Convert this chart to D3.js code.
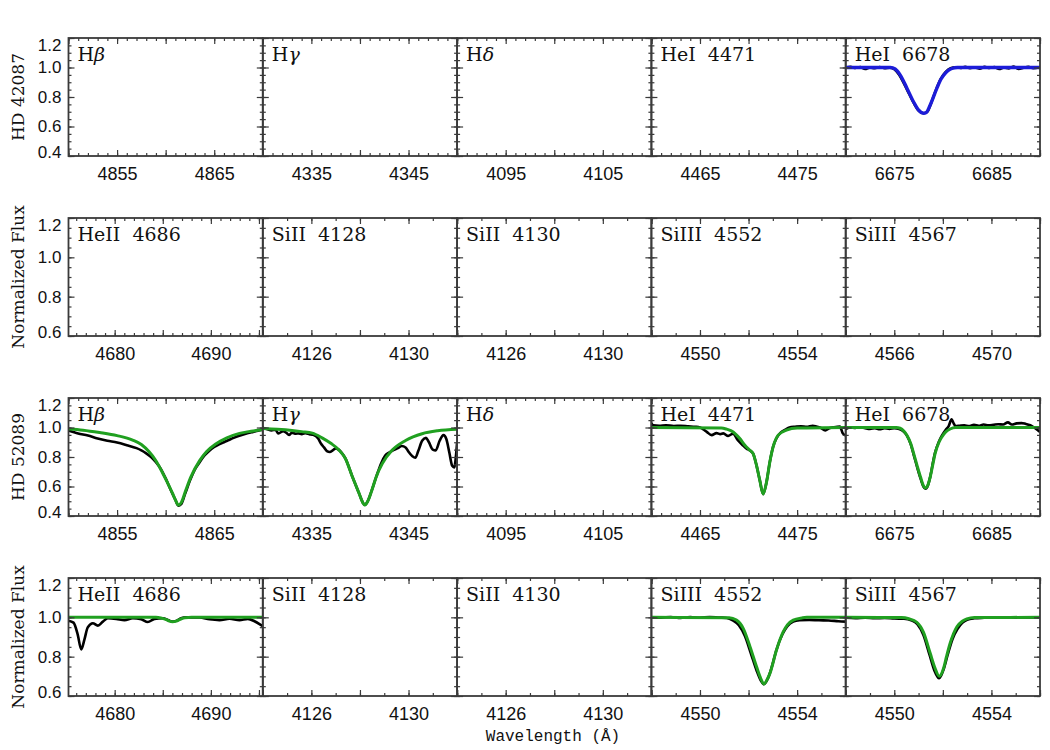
<!DOCTYPE html>
<html>
<head>
<meta charset="utf-8">
<script src="https://cdn.jsdelivr.net/npm/d3@7"></script>
<style>
  body { margin: 0; background: #fff; }
  text { fill: #111; }
  .plabel { white-space: pre; }
</style>
</head>
<body>
<div id="chart"></div>
<script>
// Line profiles of two stars, observed (black) and fitted model (green / blue)

// panel titles, one list per row
var rowLabels = [
  ['Hβ', 'Hγ', 'Hδ', 'HeI  4471', 'HeI  6678'],
  ['HeII  4686', 'SiII  4128', 'SiII  4130', 'SiIII  4552', 'SiIII  4567'],
  ['Hβ', 'Hγ', 'Hδ', 'HeI  4471', 'HeI  6678'],
  ['HeII  4686', 'SiII  4128', 'SiII  4130', 'SiIII  4552', 'SiIII  4567']
];
var rowTitles = ['HD 42087', 'Normalized Flux', 'HD 52089', 'Normalized Flux'];

// wavelength range of each panel
var xDomainsBalmer = [[4850, 4870], [4330, 4350], [4090, 4110], [4460, 4480], [6670, 6690]];
var xDomainsMetal1 = [[4675.2, 4695.4], [4124, 4132], [4124, 4132], [4548, 4556], [4564, 4572]];
var xDomainsMetal2 = [[4675.2, 4695.4], [4124, 4132], [4124, 4132], [4548, 4556], [4548, 4556]];
var rowXDomains = [xDomainsBalmer, xDomainsMetal1, xDomainsBalmer, xDomainsMetal2];

// labelled wavelength ticks
var xLabelsBalmer = [[4855, 4865], [4335, 4345], [4095, 4105], [4465, 4475], [6675, 6685]];
var xLabelsMetal1 = [[4680, 4690], [4126, 4130], [4126, 4130], [4550, 4554], [4566, 4570]];
var xLabelsMetal2 = [[4680, 4690], [4126, 4130], [4126, 4130], [4550, 4554], [4550, 4554]];
var rowXLabels = [xLabelsBalmer, xLabelsMetal1, xLabelsBalmer, xLabelsMetal2];

// flux ranges and labels
var rowYDomains = [[0.4, 1.2], [0.6, 1.2], [0.4, 1.2], [0.6, 1.2]];
var yLabelsBalmer = [0.4, 0.6, 0.8, 1.0, 1.2];
var yLabelsMetal = [0.6, 0.8, 1.0, 1.2];
var rowYLabels = [yLabelsBalmer, yLabelsMetal, yLabelsBalmer, yLabelsMetal];

// HD 42087, HeI 6678
var hd42087He6678Obs = [[6670,1.0],[6670.5,1.004],[6671,0.997],[6671.5,1.003],[6672,0.99],[6672.5,1.0],[6673,0.995],
  [6673.5,1.003],[6674,0.996],[6674.5,0.999],[6675,0.988],[6675.5,0.95],[6676,0.89],[6676.5,0.825],[6677,0.76],
  [6677.5,0.708],[6678,0.69],[6678.4,0.7],[6678.8,0.76],[6679.3,0.85],[6679.8,0.925],[6680.3,0.97],[6680.8,0.995],
  [6681.3,1.002],[6681.8,0.997],[6682.3,1.004],[6682.8,0.996],[6683.3,1.0],[6683.8,0.992],[6684.3,1.004],
  [6684.8,0.997],[6685.3,1.003],[6685.8,0.99],[6686.3,1.0],[6686.8,0.994],[6687.3,1.007],[6687.8,0.99],
  [6688.3,0.998],[6688.8,1.005],[6689.3,0.996],[6690,1.002]];
var hd42087He6678Fit = [[6670,1.0],[6674.6,1.0],[6675.09,0.99],[6675.6,0.95],[6676.3,0.86],[6676.98,0.768],
  [6677.49,0.712],[6678.0,0.69],[6678.3,0.695],[6678.7,0.746],[6679.38,0.859],[6679.8,0.92],[6680.24,0.96],
  [6680.6,0.982],[6680.93,0.993],[6681.5,1.0],[6690,1.0]];

// HD 52089, H beta
var hd52089HbObs = [[4850,0.98],[4851,0.96],[4852,0.945],[4853,0.925],[4854,0.91],[4855,0.898],[4856,0.88],
  [4857,0.86],[4857.5,0.845],[4858,0.825],[4858.5,0.8],[4859,0.765],[4859.5,0.72],[4860,0.655],[4860.5,0.58],
  [4861,0.51],[4861.3,0.47],[4861.6,0.48],[4862,0.55],[4862.5,0.64],[4863,0.715],[4863.5,0.765],[4864,0.81],
  [4864.5,0.843],[4865,0.868],[4865.5,0.886],[4866,0.9],[4866.5,0.915],[4867,0.93],[4867.5,0.943],[4868,0.953],
  [4868.5,0.962],[4869,0.97],[4869.5,0.978],[4870,0.985]];
var hd52089HbFit = [[4850,0.99],[4851.5,0.982],[4853.2,0.966],[4855,0.945],[4856.6,0.915],[4857.5,0.885],
  [4858.3,0.835],[4859,0.775],[4859.7,0.69],[4860.2,0.625],[4860.7,0.555],[4861.0,0.51],[4861.3,0.475],
  [4861.6,0.49],[4862.1,0.58],[4862.6,0.665],[4863.5,0.775],[4864.2,0.835],[4865.2,0.89],[4866.3,0.93],
  [4867.6,0.96],[4868.8,0.975],[4870,0.987]];

// HD 52089, H gamma
var hd52089HgObs = [[4330,0.998],[4330.4,0.99],[4330.9,0.98],[4331.3,0.985],[4331.6,0.96],[4332.1,0.975],
  [4332.4,0.965],[4332.7,0.95],[4333,0.965],[4333.4,0.958],[4333.7,0.96],[4334,0.955],[4334.4,0.962],
  [4334.8,0.955],[4335.2,0.95],[4335.7,0.925],[4336,0.89],[4336.3,0.865],[4336.6,0.84],[4336.9,0.834],
  [4337.2,0.845],[4337.5,0.858],[4337.8,0.85],[4338.1,0.83],[4338.5,0.79],[4339.2,0.67],[4339.9,0.555],
  [4340.3,0.49],[4340.5,0.475],[4340.8,0.5],[4341.2,0.57],[4341.7,0.67],[4342.2,0.76],[4342.6,0.81],
  [4343,0.83],[4343.4,0.845],[4343.9,0.86],[4344.3,0.875],[4344.7,0.865],[4345,0.835],[4345.4,0.805],
  [4345.7,0.795],[4346,0.84],[4346.4,0.91],[4346.8,0.93],[4347.1,0.9],[4347.5,0.85],[4347.8,0.845],
  [4348.2,0.91],[4348.6,0.948],[4348.9,0.92],[4349.2,0.83],[4349.5,0.74],[4349.7,0.73],[4349.9,0.82],[4350,0.9]];
var hd52089HgFit = [[4330,0.993],[4331.5,0.988],[4333,0.98],[4334,0.972],[4335.1,0.962],[4336.1,0.93],
  [4337,0.893],[4337.8,0.85],[4338.5,0.79],[4339.2,0.67],[4339.9,0.555],[4340.3,0.49],[4340.5,0.475],
  [4340.8,0.5],[4341.2,0.57],[4341.7,0.67],[4342.3,0.755],[4343.3,0.845],[4344.7,0.912],[4346.4,0.958],
  [4348,0.978],[4350,0.988]];

// HD 52089, HeI 4471
var hd52089He4471Obs = [[4460,1.03],[4460.2,1.015],[4460.8,1.012],[4461.5,1.015],[4462.3,1.01],[4463,1.012],
  [4463.8,1.008],[4464.5,1.005],[4465,1.0],[4465.4,0.985],[4465.7,0.97],[4466.2,0.948],[4466.7,0.962],
  [4467.1,0.955],[4467.4,0.96],[4467.9,0.943],[4468.4,0.958],[4468.9,0.914],[4469.4,0.88],[4469.8,0.857],
  [4470.1,0.846],[4470.47,0.823],[4470.82,0.743],[4471.16,0.641],[4471.5,0.548],[4471.85,0.63],
  [4472.19,0.766],[4472.53,0.87],[4472.9,0.93],[4473.3,0.965],[4473.8,0.985],[4474.2,1.0],[4474.8,1.005],
  [4475.4,1.008],[4476,1.004],[4476.6,1.012],[4477,1.006],[4477.4,0.998],[4477.9,0.98],[4478.3,0.995],
  [4478.8,1.002],[4479.4,1.006],[4479.7,0.96],[4480,0.945]];
var hd52089He4471Fit = [[4460,1.0],[4467.2,0.997],[4467.74,0.989],[4468.42,0.97],[4469.1,0.925],[4469.62,0.88],
  [4470.13,0.846],[4470.47,0.823],[4470.82,0.743],[4471.16,0.641],[4471.5,0.55],[4471.85,0.63],
  [4472.19,0.766],[4472.53,0.868],[4473.05,0.948],[4473.9,0.982],[4475,0.996],[4480,1.0]];

// HD 52089, HeI 6678
var hd52089He6678Obs = [[6670,0.99],[6670.5,1.0],[6671,0.997],[6671.5,1.002],[6672,0.995],[6672.5,0.99],
  [6673,0.995],[6673.5,0.988],[6674,0.995],[6674.5,0.99],[6675,0.995],[6675.5,0.99],[6676,0.97],[6676.3,0.945],
  [6676.7,0.885],[6677,0.815],[6677.4,0.72],[6677.7,0.655],[6678,0.6],[6678.2,0.585],[6678.4,0.598],
  [6678.7,0.665],[6679,0.77],[6679.2,0.83],[6679.6,0.905],[6679.9,0.945],[6680.3,0.985],[6680.6,1.01],
  [6680.9,1.055],[6681.1,1.03],[6681.3,1.01],[6681.7,1.012],[6682.2,1.015],[6682.7,1.01],[6683.2,1.018],
  [6683.7,1.012],[6684.2,1.02],[6684.7,1.015],[6685.2,1.018],[6685.7,1.022],[6686.2,1.02],[6686.7,1.035],
  [6687.1,1.02],[6687.6,1.028],[6688.1,1.03],[6688.5,1.025],[6689,1.015],[6689.5,0.995],[6690,0.97]];
var hd52089He6678Fit = [[6670,1.0],[6675.2,1.0],[6675.6,0.995],[6676.0,0.975],[6676.3,0.948],[6676.7,0.89],
  [6677.0,0.823],[6677.4,0.73],[6677.7,0.664],[6678.0,0.605],[6678.2,0.59],[6678.4,0.6],[6678.7,0.664],
  [6679.0,0.76],[6679.2,0.823],[6679.6,0.9],[6679.9,0.936],[6680.3,0.97],[6680.75,0.99],[6681.3,1.0],[6690,1.0]];

// HD 52089, HeII 4686
var hd52089He4686Obs = [[4675.2,0.983],[4675.72,0.973],[4676.17,0.91],[4676.52,0.837],[4676.86,0.888],
  [4677.2,0.949],[4677.73,0.97],[4678.25,0.958],[4678.77,0.978],[4679.29,0.995],[4680.16,0.992],
  [4681.02,0.986],[4681.88,0.995],[4682.76,0.99],[4683.44,0.976],[4684.14,0.992],[4685,0.995],
  [4685.6,0.985],[4686,0.978],[4686.4,0.982],[4686.9,0.995],[4687.44,1.0],[4688.82,1.0],[4689.86,0.99],
  [4690.9,0.986],[4691.94,0.993],[4692.98,0.986],[4693.84,0.992],[4694.54,0.98],[4695.23,0.96],[4695.4,0.955]];
var hd52089He4686Fit = [[4675.2,1.0],[4684.3,1.0],[4684.8,0.997],[4685.3,0.99],[4685.7,0.981],[4686.0,0.978],
  [4686.4,0.981],[4686.8,0.99],[4687.3,0.998],[4688,1.0],[4695.4,1.0]];

// HD 52089, SiIII 4552
var hd52089Si4552Obs = [[4548,1.0],[4548.4,0.998],[4548.8,1.002],[4549.2,0.997],[4549.6,1.001],[4550,0.998],
  [4550.4,1.002],[4550.8,0.999],[4551.1,0.997],[4551.35,0.985],[4551.6,0.96],[4551.85,0.905],[4552.1,0.815],
  [4552.33,0.73],[4552.5,0.68],[4552.63,0.66],[4552.8,0.69],[4552.95,0.745],[4553.15,0.835],[4553.4,0.915],
  [4553.6,0.955],[4553.84,0.978],[4554.1,0.985],[4554.5,0.987],[4554.9,0.985],[4555.3,0.984],[4555.7,0.98],
  [4556,0.978]];
var hd52089Si4552Fit = [[4548,1.0],[4551.2,0.998],[4551.5,0.986],[4551.78,0.944],[4552.06,0.851],
  [4552.33,0.749],[4552.5,0.69],[4552.63,0.661],[4552.75,0.68],[4552.88,0.715],[4553.15,0.834],
  [4553.43,0.927],[4553.6,0.962],[4553.84,0.986],[4554.2,0.997],[4554.4,1.0],[4556,1.0]];

// HD 52089, SiIII 4567
var hd52089Si4567Obs = [[4548,0.998],[4548.4,0.996],[4548.8,0.998],[4549.2,0.995],[4549.6,0.997],[4550,0.994],
  [4550.4,0.993],[4550.7,0.985],[4550.95,0.965],[4551.2,0.91],[4551.45,0.81],[4551.65,0.73],[4551.85,0.69],
  [4552.03,0.735],[4552.2,0.81],[4552.4,0.89],[4552.6,0.94],[4552.8,0.972],[4553.0,0.988],[4553.3,0.995],
  [4553.7,0.998],[4554.2,1.0],[4554.8,0.999],[4555.4,1.0],[4556,0.999]];
var hd52089Si4567Fit = [[4548,1.0],[4550.3,0.999],[4550.6,0.993],[4550.93,0.975],[4551.2,0.925],
  [4551.48,0.817],[4551.68,0.741],[4551.85,0.7],[4552.03,0.741],[4552.15,0.8],[4552.3,0.868],
  [4552.58,0.952],[4552.8,0.98],[4552.99,0.992],[4553.3,0.999],[4556,1.0]];

// which spectrum goes in which panel
var spectra = [
  { row: 0, col: 4, data: hd42087He6678Obs, color: '#000', width: 2.6 },
  { row: 0, col: 4, data: hd42087He6678Fit, color: '#1c1cd8', width: 3.4 },
  { row: 2, col: 0, data: hd52089HbObs, color: '#000', width: 2.6 },
  { row: 2, col: 0, data: hd52089HbFit, color: '#20a020', width: 3 },
  { row: 2, col: 1, data: hd52089HgObs, color: '#000', width: 2.6 },
  { row: 2, col: 1, data: hd52089HgFit, color: '#20a020', width: 3 },
  { row: 2, col: 3, data: hd52089He4471Obs, color: '#000', width: 2.6 },
  { row: 2, col: 3, data: hd52089He4471Fit, color: '#20a020', width: 3 },
  { row: 2, col: 4, data: hd52089He6678Obs, color: '#000', width: 2.6 },
  { row: 2, col: 4, data: hd52089He6678Fit, color: '#20a020', width: 3 },
  { row: 3, col: 0, data: hd52089He4686Obs, color: '#000', width: 2.6 },
  { row: 3, col: 0, data: hd52089He4686Fit, color: '#20a020', width: 3 },
  { row: 3, col: 3, data: hd52089Si4552Obs, color: '#000', width: 2.6 },
  { row: 3, col: 3, data: hd52089Si4552Fit, color: '#20a020', width: 3 },
  { row: 3, col: 4, data: hd52089Si4567Obs, color: '#000', width: 2.6 },
  { row: 3, col: 4, data: hd52089Si4567Fit, color: '#20a020', width: 3 }
];

(function() {
  var W = 1050, H = 750;
  var plotLeft = 68.5, plotRight = 1040;
  var rowTops = [38, 218, 398, 578];
  var panelH = 118;
  var panelW = (plotRight - plotLeft) / 5;
  var axisColor = '#3a3a3a';
  var tickFont = '"Liberation Sans", Arial, sans-serif';
  var serifFont = '"DejaVu Serif", serif';

  var svg = d3.select('#chart').append('svg').attr('width', W).attr('height', H);
  svg.append('rect').attr('width', W).attr('height', H).attr('fill', '#fff');

  function stepTicks(dom, step) {
    var out = [];
    for (var v = Math.ceil(dom[0] / step - 1e-9) * step; v <= dom[1] + 1e-9; v += step) {
      out.push(+v.toFixed(3));
    }
    return out;
  }

  function styleAxis(sel) {
    sel.select('.domain').remove();
    sel.selectAll('.tick line').attr('stroke', axisColor).attr('stroke-width', 1.2);
  }

  rowTops.forEach(function(top, r) {
    var yDom = rowYDomains[r];
    var y = d3.scaleLinear().domain(yDom).range([panelH, 0]);
    var yMinor = stepTicks(yDom, 0.05);

    for (var c = 0; c < 5; c++) {
      var xDom = rowXDomains[r][c];
      var x = d3.scaleLinear().domain(xDom).range([0, panelW]);
      var wide = (xDom[1] - xDom[0]) > 10;
      var xMajor = stepTicks(xDom, wide ? 5 : 2);
      var xMinor = stepTicks(xDom, 1);
      var labels = rowXLabels[r][c];

      var g = svg.append('g')
        .attr('transform', 'translate(' + (plotLeft + c * panelW) + ',' + top + ')');

      var clipId = 'clip-' + r + '-' + c;
      g.append('clipPath').attr('id', clipId)
        .append('rect').attr('width', panelW).attr('height', panelH);

      // spectra
      var line = d3.line()
        .x(function(d) { return x(d[0]); })
        .y(function(d) { return y(d[1]); })
        .curve(d3.curveMonotoneX);

      spectra.filter(function(s) { return s.row === r && s.col === c; }).forEach(function(s) {
        g.append('path')
          .attr('clip-path', 'url(#' + clipId + ')')
          .attr('d', line(s.data))
          .attr('fill', 'none')
          .attr('stroke', s.color)
          .attr('stroke-width', s.width)
          .attr('stroke-linejoin', 'round');
      });

      // bottom axis with labels
      var bottom = g.append('g').attr('transform', 'translate(0,' + panelH + ')')
        .call(d3.axisBottom(x).tickValues(xMajor).tickSize(-6).tickPadding(11)
          .tickFormat(function(d) { return labels.indexOf(d) >= 0 ? d : ''; }));
      styleAxis(bottom);
      bottom.selectAll('text').attr('font-family', tickFont).attr('font-size', 18).attr('fill', '#111');
      styleAxis(g.append('g').attr('transform', 'translate(0,' + panelH + ')')
        .call(d3.axisBottom(x).tickValues(xMinor).tickSize(-3).tickFormat('')));

      // top axis
      styleAxis(g.append('g').call(d3.axisTop(x).tickValues(xMajor).tickSize(-6).tickFormat('')));
      styleAxis(g.append('g').call(d3.axisTop(x).tickValues(xMinor).tickSize(-3).tickFormat('')));

      // left axis
      var yLabels = rowYLabels[r];
      var left = g.append('g')
        .call(d3.axisLeft(y).tickValues(yLabels).tickSize(-6).tickPadding(7)
          .tickFormat(c === 0 ? d3.format('.1f') : ''));
      styleAxis(left);
      left.selectAll('text')
        .attr('font-family', tickFont).attr('font-size', 17).attr('fill', '#111')
        .attr('y', function(d) {
          if (d === yDom[1]) return 7;
          if (d === yDom[0]) return -4;
          return 0;
        });
      styleAxis(g.append('g').call(d3.axisLeft(y).tickValues(yMinor).tickSize(-3).tickFormat('')));

      // right axis
      styleAxis(g.append('g').attr('transform', 'translate(' + panelW + ',0)')
        .call(d3.axisRight(y).tickValues(yLabels).tickSize(-6).tickFormat('')));
      styleAxis(g.append('g').attr('transform', 'translate(' + panelW + ',0)')
        .call(d3.axisRight(y).tickValues(yMinor).tickSize(-3).tickFormat('')));

      // frame
      g.append('rect')
        .attr('width', panelW).attr('height', panelH)
        .attr('fill', 'none').attr('stroke', axisColor).attr('stroke-width', 1.8);

      // panel label, Greek letters in italics
      var lab = rowLabels[r][c];
      var t = g.append('text').attr('class', 'plabel')
        .attr('x', 9).attr('y', 23)
        .attr('font-family', serifFont).attr('font-size', 19);
      if (/[α-ω]/.test(lab)) {
        t.append('tspan').text(lab.slice(0, 1));
        t.append('tspan').attr('font-style', 'italic').text(lab.slice(1));
      } else {
        t.text(lab);
      }
    }

    // row title
    svg.append('text')
      .attr('transform', 'translate(24,' + (top + panelH / 2) + ') rotate(-90)')
      .attr('text-anchor', 'middle')
      .attr('font-family', serifFont).attr('font-size', 17)
      .text(rowTitles[r]);
  });

  // x axis title
  svg.append('text')
    .attr('x', 553).attr('y', 741)
    .attr('text-anchor', 'middle')
    .attr('font-family', '"Liberation Mono", monospace').attr('font-size', 16)
    .text('Wavelength (Å)');
})();
</script>
</body>
</html>
